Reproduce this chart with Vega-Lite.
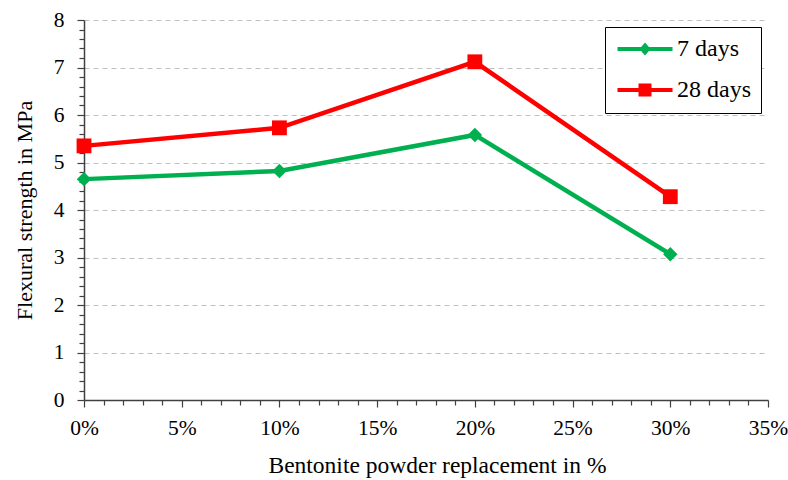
{
  "$schema": "https://vega.github.io/schema/vega-lite/v6.json",
  "width": 684,
  "height": 380,
  "autosize": {"type": "none"},
  "padding": {"left": 84, "top": 20, "right": 20, "bottom": 80},
  "background": "white",
  "config": {
    "font": "Liberation Serif, DejaVu Serif, serif",
    "view": {"stroke": null},
    "axis": {
      "labelFont": "Liberation Serif, DejaVu Serif, serif",
      "titleFont": "Liberation Serif, DejaVu Serif, serif",
      "labelColor": "black",
      "titleColor": "black",
      "titleFontWeight": "normal",
      "domainColor": "#404040",
      "tickColor": "#404040",
      "domainWidth": 1.5,
      "tickWidth": 1.2
    },
    "legend": {
      "orient": "none",
      "legendX": 521,
      "legendY": 7,
      "padding": 10,
      "strokeColor": "black",
      "fillColor": "white",
      "labelFont": "Liberation Serif, DejaVu Serif, serif",
      "labelFontSize": 24,
      "labelColor": "black",
      "labelOffset": 20,
      "symbolOffset": 18,
      "symbolSize": 400,
      "symbolStrokeWidth": 4,
      "rowPadding": 16
    }
  },
  "data": {
    "values": [
      {"series": "7 days", "pct": 0, "value": 4.65},
      {"series": "7 days", "pct": 10, "value": 4.82},
      {"series": "7 days", "pct": 20, "value": 5.58},
      {"series": "7 days", "pct": 30, "value": 3.07},
      {"series": "28 days", "pct": 0, "value": 5.35},
      {"series": "28 days", "pct": 10, "value": 5.73},
      {"series": "28 days", "pct": 20, "value": 7.12},
      {"series": "28 days", "pct": 30, "value": 4.28}
    ]
  },
  "encoding": {
    "x": {
      "field": "pct",
      "type": "quantitative",
      "scale": {"domain": [0, 35], "nice": false, "zero": true},
      "axis": {
        "title": "Bentonite powder replacement in %",
        "titleFontSize": 23.5,
        "titlePadding": 15,
        "titleX": 353,
        "labelFontSize": 21.5,
        "labelPadding": 10,
        "values": [0,1,2,3,4,5,6,7,8,9,10,11,12,13,14,15,16,17,18,19,20,21,22,23,24,25,26,27,28,29,30,31,32,33,34,35],
        "labelExpr": "datum.value % 5 === 0 ? datum.value + '%' : ''",
        "labelOverlap": false,
        "labelFlush": false,
        "tickSize": {"condition": {"test": "datum.value % 5 === 0", "value": 7}, "value": 5},
        "grid": false
      }
    },
    "y": {
      "field": "value",
      "type": "quantitative",
      "scale": {"domain": [0, 8], "nice": false},
      "axis": {
        "title": "Flexural strength in MPa",
        "titleFontSize": 22,
        "titlePadding": 17,
        "labelFontSize": 21.5,
        "labelPadding": 13,
        "values": [0,0.2,0.4,0.6,0.8,1,1.2,1.4,1.6,1.8,2,2.2,2.4,2.6,2.8,3,3.2,3.4,3.6,3.8,4,4.2,4.4,4.6,4.8,5,5.2,5.4,5.6,5.8,6,6.2,6.4,6.6,6.8,7,7.2,7.4,7.6,7.8,8],
        "labelExpr": "datum.value % 1 === 0 ? datum.value : ''",
        "labelOverlap": false,
        "labelFlush": false,
        "tickSize": {"condition": {"test": "datum.value % 1 === 0", "value": 7}, "value": 5},
        "grid": true,
        "gridColor": "#BFBFBF",
        "gridDash": [5, 4],
        "gridWidth": 1.2,
        "gridOpacity": {"condition": {"test": "datum.value % 1 === 0 && datum.value > 0", "value": 1}, "value": 0}
      }
    },
    "color": {
      "field": "series",
      "type": "nominal",
      "scale": {"domain": ["7 days", "28 days"], "range": ["#00B050", "#FF0000"]},
      "legend": {"title": null}
    }
  },
  "layer": [
    {
      "mark": {"type": "line", "strokeWidth": 4.5},
      "encoding": {}
    },
    {
      "transform": [{"filter": "datum.series === '7 days'"}],
      "mark": {"type": "point", "filled": true, "opacity": 1, "shape": "diamond", "size": 210},
      "encoding": {}
    },
    {
      "transform": [{"filter": "datum.series === '28 days'"}],
      "mark": {"type": "point", "filled": true, "opacity": 1, "shape": "square", "size": 220},
      "encoding": {}
    },
    {
      "transform": [{"filter": "false"}],
      "mark": {"type": "point", "filled": true, "opacity": 1, "strokeWidth": 4},
      "encoding": {
        "stroke": {
          "field": "series",
          "type": "nominal",
          "scale": {"domain": ["7 days", "28 days"], "range": ["#00B050", "#FF0000"]},
          "legend": {"title": null}
        },
        "shape": {
          "field": "series",
          "type": "nominal",
          "scale": {
            "domain": ["7 days", "28 days"],
            "range": [
              "M-2.75,0H2.75M-0.3,0L0,-0.35L0.3,0L0,0.35Z",
              "M-2.75,0H2.75M-0.45,-0.45H0.45V0.45H-0.45Z"
            ]
          },
          "legend": {"title": null}
        }
      }
    }
  ]
}
